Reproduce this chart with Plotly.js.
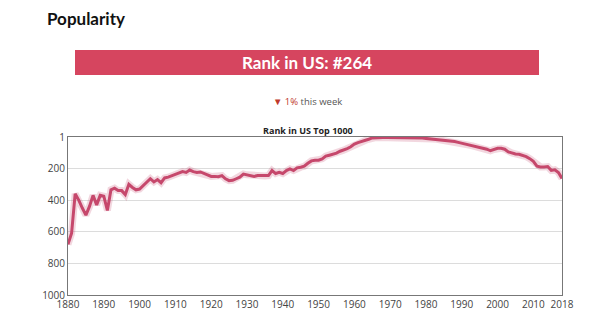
<!DOCTYPE html>
<html>
<head>
<meta charset="utf-8">
<script src="https://cdn.plot.ly/plotly-3.0.1.min.js"></script>
<style>html,body{margin:0;padding:0;background:#fff;}#chart{width:600px;height:327px;}</style>
</head>
<body>
<div id="chart"></div>
<script>
// ---- data ----
const years = [];
for (let y = 1880; y <= 2018; y++) years.push(y);
const ranks = [
 680,610,360,400,450,495,440,370,430,370,
 375,465,335,325,340,340,365,300,320,335,
 330,310,290,265,285,270,290,260,255,245,
 235,228,220,225,210,220,225,222,232,243,
 250,250,252,245,265,277,275,265,255,235,
 240,242,250,245,245,247,245,213,232,224,
 232,213,203,213,196,192,186,167,152,148,
 148,139,122,116,110,103,91,84,74,63,
 46,36,30,23,15,7,5,4,4,4,
 4,4,4,4,4,4,5,5,6,8,
 10,12,14,16,19,23,25,27,30,35,
 40,46,52,57,62,67,72,78,88,80,
 72,72,78,95,102,108,110,118,125,138,
 155,185,190,190,188,212,208,225,264
];
const xTickVals = [1880,1890,1900,1910,1920,1930,1940,1950,1960,1970,1980,1990,2000,2010,2018];
const yTickVals = [1,200,400,600,800,1000];
const yTickText = ['1','200','400','600','800','1000'];
const pageTitle = 'Popularity';
const bannerText = 'Rank in US: #264';
const changeText = '<span style="color:#c0392b">▼ 1%</span> this week';
const chartTitle = 'Rank in US Top 1000';

// ---- layout helpers (pixel -> paper) ----
const W = 600, H = 327, L = 68, R = 562, T = 137, B = 295;
const px = x => (x - L) / (R - L);
const py = y => (B - y) / (B - T);

const lineColor = 'rgb(198,72,108)';

const traces = [
  {x: years, y: ranks, type: 'scatter', mode: 'lines', hoverinfo: 'skip',
   line: {color: 'rgba(198,72,108,0.22)', width: 7, shape: 'linear'}},
  {x: years, y: ranks, type: 'scatter', mode: 'lines',
   line: {color: lineColor, width: 3, shape: 'linear'}}
];

const layout = {
  width: W, height: H,
  margin: {l: L, r: W - R, t: T, b: H - B, pad: 0},
  paper_bgcolor: '#fff', plot_bgcolor: '#fff',
  showlegend: false,
  font: {family: '"Open Sans", sans-serif', size: 10, color: '#444'},
  title: {text: '<b>' + pageTitle + '</b>', xref: 'container', x: 47 / W, xanchor: 'left',
          yref: 'container', y: 1 - 19 / H, yanchor: 'middle',
          font: {family: 'Lato, "Noto Sans", sans-serif', size: 17, color: '#111'}},
  xaxis: {
    range: [1880, 2018], tickvals: xTickVals, ticks: '', showgrid: false,
    zeroline: false, showline: true, linecolor: '#777', linewidth: 1, mirror: true,
    tickfont: {size: 10, color: '#444'}
  },
  yaxis: {
    range: [1000, 1], tickvals: yTickVals, ticktext: yTickText, ticks: '',
    showgrid: true, gridcolor: '#dcdcdc', gridwidth: 1, zeroline: false,
    showline: true, linecolor: '#777', linewidth: 1, mirror: true,
    tickfont: {size: 10, color: '#444'}
  },
  shapes: [
    {type: 'rect', xref: 'paper', yref: 'paper', x0: px(75), x1: px(539), y0: py(75), y1: py(50),
     fillcolor: 'rgb(214,69,95)', line: {width: 0}, layer: 'above'}
  ],
  annotations: [
    {xref: 'paper', yref: 'paper', x: px(307), y: py(63), xanchor: 'center', yanchor: 'middle',
     text: '<b>' + bannerText + '</b>', showarrow: false,
     font: {family: 'Lato, "Noto Sans", sans-serif', size: 17, color: '#fff'}},
    {xref: 'paper', yref: 'paper', x: px(307), y: py(102), xanchor: 'center', yanchor: 'middle',
     text: changeText, showarrow: false,
     font: {family: '"Open Sans", sans-serif', size: 9.5, color: '#555'}},
    {xref: 'paper', yref: 'paper', x: px(308), y: py(130), xanchor: 'center', yanchor: 'middle',
     text: '<b>' + chartTitle + '</b>', showarrow: false,
     font: {family: '"Open Sans", sans-serif', size: 9, color: '#222'}}
  ]
};

Plotly.newPlot('chart', traces, layout, {displayModeBar: false, staticPlot: true});
</script>
</body>
</html>
